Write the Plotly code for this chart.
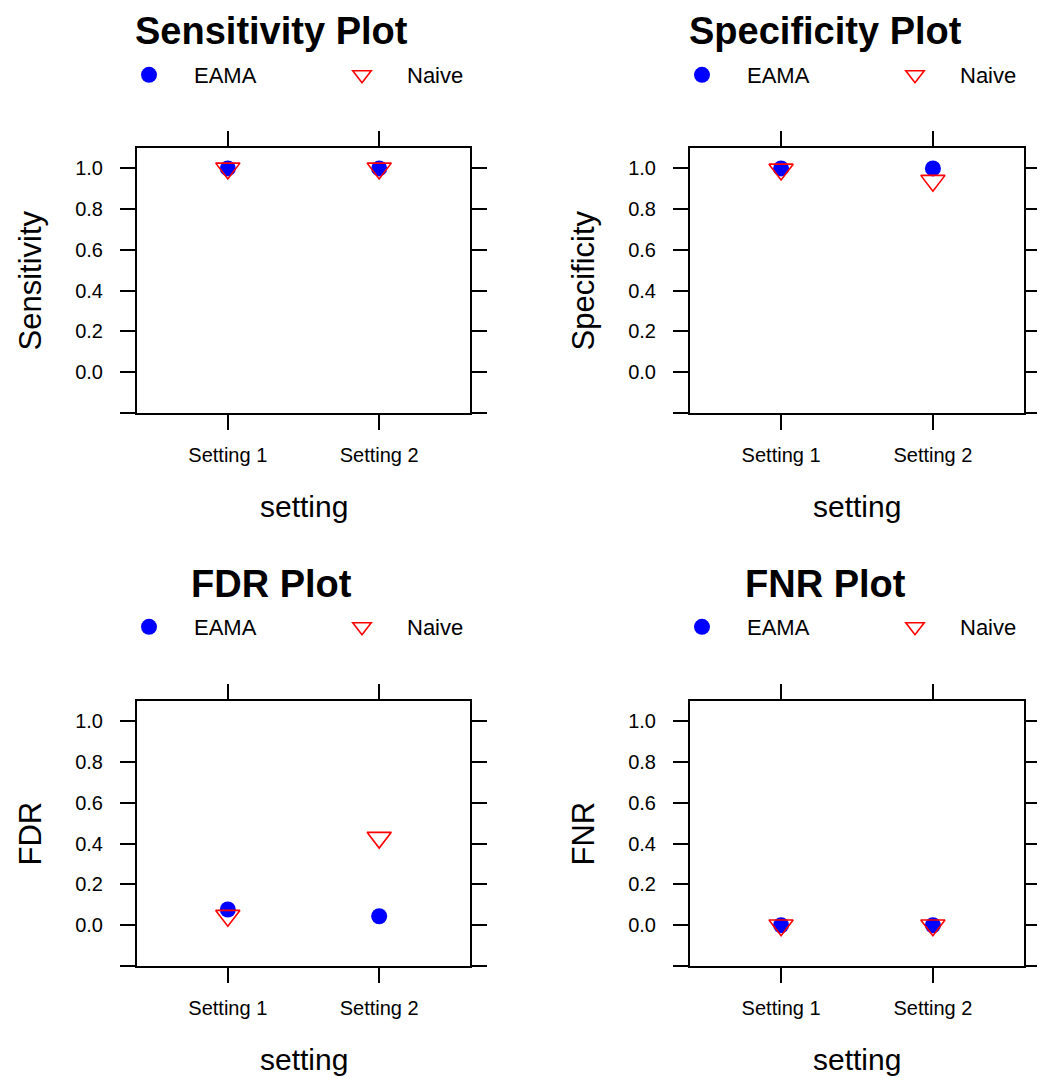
import plotly.graph_objects as go

# ---------------- data ----------------
categories = ["Setting 1", "Setting 2"]
methods = ["EAMA", "Naive"]
metrics = ["Sensitivity", "Specificity", "FDR", "FNR"]
titles = ["Sensitivity Plot", "Specificity Plot", "FDR Plot", "FNR Plot"]

sens_eama = [1.0, 1.0]
sens_naive = [1.0, 1.0]
spec_eama = [1.0, 1.0]
spec_naive = [0.995, 0.94]
fdr_eama = [0.077, 0.044]
fdr_naive = [0.047, 0.43]
fnr_eama = [0.0, 0.0]
fnr_naive = [0.0, 0.0]

y_tick_vals = [-0.2, 0.0, 0.2, 0.4, 0.6, 0.8, 1.0]
y_tick_text = ["", "0.0", "0.2", "0.4", "0.6", "0.8", "1.0"]

values = {
    "Sensitivity": (sens_eama, sens_naive),
    "Specificity": (spec_eama, spec_naive),
    "FDR": (fdr_eama, fdr_naive),
    "FNR": (fnr_eama, fnr_naive),
}

# ---------------- layout geometry (pixels) ----------------
OFF = 8  # page body margin
W, H = 1045 - OFF, 1078 - OFF
FONT = "Liberation Sans, Arial, Helvetica, sans-serif"
boxes = [  # left, right, top, bottom (page pixels)
    (137, 470, 148, 413),
    (690, 1024, 148, 413),
    (137, 470, 701, 966),
    (690, 1024, 701, 966),
]
legend_y = [75, 75, 627, 627]
title_y = [31, 31, 584, 584]


def px_x(v):
    return (v - OFF) / W


def px_y(v):
    return 1 - (v - OFF) / H


fig = go.Figure()
layout = dict(
    width=W, height=H, autosize=False,
    margin=dict(l=0, r=0, t=0, b=0),
    paper_bgcolor="white", plot_bgcolor="white",
    font=dict(family=FONT, color="black"),
    annotations=[],
)

axis_common = dict(
    showline=True, linecolor="black", linewidth=2, mirror="ticks",
    ticks="outside", ticklen=15, tickwidth=2, tickcolor="black",
    showgrid=False, zeroline=False, fixedrange=True,
    tickfont=dict(family=FONT, size=20, color="black"),
)

leg_idx = 0
for i, metric in enumerate(metrics):
    L, R, T, B = boxes[i]
    xa = "x" if i == 0 else f"x{i+1}"
    ya = "y" if i == 0 else f"y{i+1}"
    xkey = "xaxis" if i == 0 else f"xaxis{i+1}"
    ykey = "yaxis" if i == 0 else f"yaxis{i+1}"
    layout[xkey] = dict(
        axis_common, domain=[px_x(L), px_x(R)], anchor=ya,
        type="category", range=[-0.6, 1.6],
        ticklabelstandoff=8,
    )
    layout[ykey] = dict(
        axis_common, domain=[px_y(B), px_y(T)], anchor=xa,
        range=[-0.2, 1.1], tickmode="array",
        tickvals=y_tick_vals, ticktext=y_tick_text,
        ticklabelstandoff=13,
    )
    eama, naive = values[metric]
    specs = [
        (methods[0], eama, dict(symbol="circle", size=16, color="#0000FF",
                                line=dict(width=0))),
        (methods[1], naive, dict(symbol="triangle-down-open", size=21,
                                 color="#FF0000", line=dict(width=1.6))),
    ]
    marker_px = [L + 12, L + 225]
    for k, (name, vals, mk) in enumerate(specs):
        leg_idx += 1
        lid = "legend" if leg_idx == 1 else f"legend{leg_idx}"
        fig.add_trace(go.Scatter(
            x=categories, y=vals, mode="markers", name=name,
            marker=mk, xaxis=xa, yaxis=ya, legend=lid, showlegend=True,
        ))
        layout[lid] = dict(
            x=px_x(marker_px[k] - 45), y=px_y(legend_y[i]),
            xref="paper", yref="paper", xanchor="left", yanchor="middle",
            orientation="h", itemwidth=80, bgcolor="rgba(0,0,0,0)",
            borderwidth=0, font=dict(family=FONT, size=22, color="black"),
        )
    # panel title
    layout["annotations"].append(dict(
        text=f"<b>{titles[i]}</b>", x=px_x((L + R) / 2 - 32),
        y=px_y(title_y[i]),
        xref="paper", yref="paper", xanchor="center", yanchor="middle",
        showarrow=False, font=dict(family=FONT, size=38, color="black"),
    ))
    # axis titles
    layout["annotations"].append(dict(
        text=metric, x=px_x(L - 107), y=px_y((T + B) / 2),
        xref="paper", yref="paper", xanchor="center", yanchor="middle",
        textangle=-90, showarrow=False,
        font=dict(family=FONT, size=31, color="black"),
    ))
    layout["annotations"].append(dict(
        text="setting", x=px_x((L + R) / 2), y=px_y(B + 93),
        xref="paper", yref="paper", xanchor="center", yanchor="middle",
        showarrow=False, font=dict(family=FONT, size=30, color="black"),
    ))

fig.update_layout(**layout)
fig.write_html("out.html")
